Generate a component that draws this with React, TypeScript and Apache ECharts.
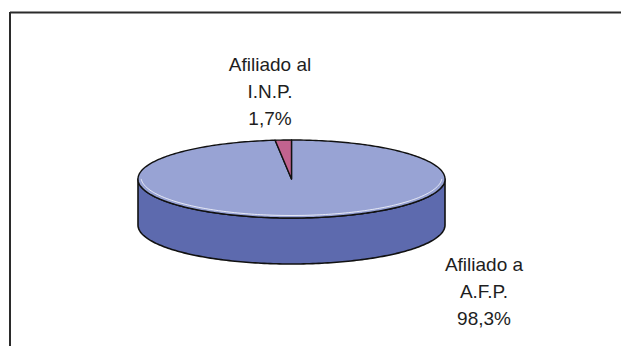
import React, { useEffect, useRef } from "react";
import * as echarts from "echarts";

const categories = ["Afiliado a\nA.F.P.", "Afiliado al\nI.N.P."];
const values = [98.3, 1.7];
const valueLabels = ["98,3%", "1,7%"];
const topColors = ["#98a3d4", "#c2638f"];
const sideColors = ["#5d6aae", "#8e3a62"];

// layout (pixels)
const CX = 291.5;
const CY = 179;
const RX = 153.5;
const RY = 39;
const DEPTH = 46;
const LABEL_POS: [number, number][] = [
  [484, 291.5],
  [270, 91.5],
];

function pt(theta: number, dy = 0, ry = RY, rx = RX): number[] {
  return [CX + rx * Math.sin(theta), CY - ry * Math.cos(theta) + dy];
}

function arcPoints(a0: number, a1: number, dy = 0, ry = RY, rx = RX): number[][] {
  const n = Math.max(2, Math.ceil(Math.abs(a1 - a0) / 0.02));
  const pts: number[][] = [];
  for (let i = 0; i <= n; i++) {
    const t = a0 + ((a1 - a0) * i) / n;
    pts.push(pt(t, dy, ry, rx));
  }
  return pts;
}

export default function App() {
  const ref = useRef<HTMLDivElement>(null);
  useEffect(() => {
    if (!ref.current) return;
    const chart = echarts.init(ref.current, undefined, { renderer: "svg" });
    const total = values.reduce((a, b) => a + b, 0);
    const starts: number[] = [];
    let acc = 0;
    values.forEach((v) => {
      starts.push(acc);
      acc += v;
    });

    const renderItem = (params: any, api: any) => {
      const i = params.dataIndex;
      const v = api.value(0);
      const a0 = (starts[i] / total) * Math.PI * 2;
      const a1 = a0 + (v / total) * Math.PI * 2;
      const children: any[] = [];
      // side (front half only)
      const s = Math.max(a0, Math.PI / 2);
      const e = Math.min(a1, (Math.PI * 3) / 2);
      if (e > s) {
        const top = arcPoints(s, e, 0);
        const bottom = arcPoints(e, s, DEPTH);
        children.push({
          type: "polygon",
          shape: { points: top.concat(bottom) },
          style: { fill: sideColors[i], stroke: "#111", lineWidth: 1.6, lineJoin: "round" },
        });
      }
      // top face
      const topPts = [[CX, CY]].concat(arcPoints(a0, a1, 0));
      children.push({
        type: "polygon",
        shape: { points: topPts },
        style: { fill: topColors[i], stroke: "#111", lineWidth: 1.4, lineJoin: "round" },
      });
      // highlight along the front rim of the top face
      if (e > s) {
        children.push({
          type: "polyline",
          shape: { points: arcPoints(s + 0.05, e - 0.05, -2, RY - 0.5, RX - 3) },
          style: { stroke: "rgba(255,255,255,0.75)", lineWidth: 1, fill: null },
        });
      }
      // label
      children.push({
        type: "text",
        x: LABEL_POS[i][0],
        y: LABEL_POS[i][1],
        style: {
          text: categories[i] + "\n" + valueLabels[i],
          fill: "#1e1e1e",
          font: '19px "Liberation Sans", Arial, sans-serif',
          align: "center",
          verticalAlign: "middle",
          lineHeight: 27,
        },
      });
      return { type: "group", children };
    };

    chart.setOption({
      animation: false,
      backgroundColor: "#ffffff",
      graphic: [
        {
          type: "line",
          shape: { x1: 10, y1: 12.5, x2: 621, y2: 12.5 },
          style: { stroke: "#2b2b2b", lineWidth: 2 },
        },
        {
          type: "line",
          shape: { x1: 10, y1: 12, x2: 10, y2: 346 },
          style: { stroke: "#2b2b2b", lineWidth: 2 },
        },
      ],
      series: [
        {
          type: "custom",
          coordinateSystem: "none",
          renderItem,
          data: values.map((v, i) => ({ value: [v], name: categories[i] })),
        },
      ],
    });
    return () => chart.dispose();
  }, []);
  return (
    <div
      ref={ref}
      style={{ position: "absolute", left: 0, top: 0, width: 621, height: 346 }}
    />
  );
}
